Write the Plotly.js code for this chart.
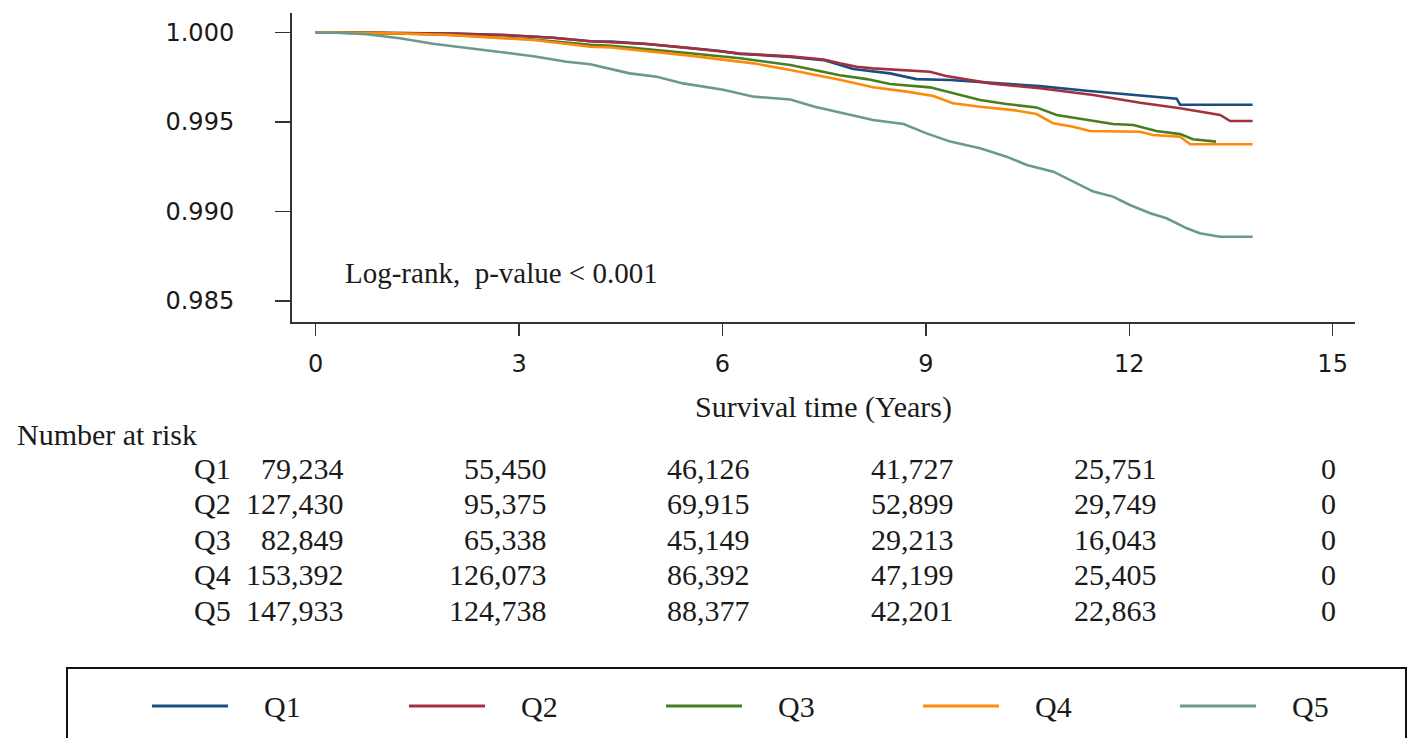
<!DOCTYPE html>
<html>
<head>
<meta charset="utf-8">
<script src="https://cdn.plot.ly/plotly-3.0.1.min.js"></script>
<style>
html,body{margin:0;padding:0;background:#fff;}
#chart{width:1410px;height:738px;}
</style>
</head>
<body>
<div id="chart"></div>
<script>
// ---- data ----
const seriesNames = ["Q1", "Q2", "Q3", "Q4", "Q5"];

const q1Time = [0, 1.0, 2.0, 2.78, 3.5, 4.05, 4.36, 4.89, 5.52, 5.94, 6.26, 7.0, 7.49, 7.93, 8.47, 8.86, 9.36, 9.99, 10.68, 11.37, 11.91, 12.55, 12.70, 12.75, 13.82];
const q1Surv = [1.0, 0.99998, 0.99993, 0.99985, 0.99970, 0.99950, 0.99948, 0.99935, 0.99912, 0.99897, 0.99880, 0.99863, 0.99845, 0.99795, 0.99771, 0.99739, 0.99734, 0.99719, 0.99700, 0.99674, 0.99656, 0.99632, 0.99630, 0.99596, 0.99596];

const q2Time = [0, 1.0, 2.0, 2.78, 3.5, 4.05, 4.89, 5.52, 5.94, 6.26, 7.0, 7.49, 7.73, 7.98, 8.22, 8.72, 9.06, 9.30, 9.95, 10.68, 11.47, 12.16, 12.75, 13.34, 13.49, 13.82];
const q2Surv = [1.0, 0.99998, 0.99993, 0.99985, 0.99970, 0.99950, 0.99935, 0.99912, 0.99897, 0.99882, 0.99866, 0.99848, 0.99827, 0.99808, 0.99799, 0.99786, 0.99780, 0.99756, 0.99715, 0.99688, 0.99650, 0.99607, 0.99576, 0.99539, 0.99505, 0.99505];

const q3Time = [0, 1.0, 2.0, 2.78, 3.21, 4.05, 4.36, 5.52, 6.26, 7.0, 7.73, 8.13, 8.47, 9.06, 9.36, 9.80, 10.19, 10.63, 10.93, 11.42, 11.76, 12.06, 12.40, 12.75, 12.94, 13.28];
const q3Surv = [1.0, 0.99996, 0.99985, 0.99970, 0.99960, 0.99930, 0.99925, 0.99883, 0.99855, 0.99818, 0.99760, 0.99739, 0.99712, 0.99693, 0.99663, 0.99622, 0.99600, 0.99581, 0.99539, 0.99511, 0.99488, 0.99483, 0.99449, 0.99432, 0.99403, 0.99390];

const q4Time = [0, 1.2, 1.98, 2.78, 3.21, 4.05, 4.36, 5.52, 6.46, 7.0, 7.73, 8.22, 8.72, 9.11, 9.40, 9.80, 10.29, 10.63, 10.88, 11.17, 11.42, 12.16, 12.35, 12.75, 12.90, 13.82];
const q4Surv = [1.0, 0.99994, 0.99985, 0.99967, 0.99957, 0.99920, 0.99915, 0.99870, 0.99827, 0.99790, 0.99735, 0.99693, 0.99669, 0.99645, 0.99604, 0.99585, 0.99566, 0.99544, 0.99492, 0.99473, 0.99449, 0.99445, 0.99427, 0.99417, 0.99375, 0.99375];

const q5Time = [0, 0.3, 0.75, 1.24, 1.73, 2.23, 2.72, 3.21, 3.70, 4.05, 4.63, 5.03, 5.42, 6.01, 6.46, 7.0, 7.36, 7.80, 8.22, 8.67, 9.01, 9.36, 9.80, 10.19, 10.49, 10.88, 11.17, 11.47, 11.76, 12.01, 12.31, 12.55, 12.85, 13.04, 13.34, 13.82];
const q5Surv = [1.0, 0.99998, 0.99989, 0.99967, 0.99936, 0.99912, 0.99890, 0.99867, 0.99836, 0.99822, 0.99771, 0.99752, 0.99715, 0.99680, 0.99641, 0.99625, 0.99585, 0.99548, 0.99511, 0.99488, 0.99436, 0.99390, 0.99353, 0.99306, 0.99260, 0.99222, 0.99166, 0.99111, 0.99083, 0.99036, 0.98990, 0.98962, 0.98906, 0.98878, 0.98859, 0.98859];

const xTickVals = [0, 3, 6, 9, 12, 15];
const yTickVals = [0.985, 0.990, 0.995, 1.000];

const riskTimes = [0, 3, 6, 9, 12, 15];
const riskQ1 = ["79,234", "55,450", "46,126", "41,727", "25,751", "0"];
const riskQ2 = ["127,430", "95,375", "69,915", "52,899", "29,749", "0"];
const riskQ3 = ["82,849", "65,338", "45,149", "29,213", "16,043", "0"];
const riskQ4 = ["153,392", "126,073", "86,392", "47,199", "25,405", "0"];
const riskQ5 = ["147,933", "124,738", "88,377", "42,201", "22,863", "0"];

const logRankText = "Log-rank,  p-value < 0.001";
const xTitle = "Survival time (Years)";
const riskTitle = "Number at risk";

// ---- styling ----
const colors = ["#1a4e80", "#a3303f", "#4a7d22", "#ff8a0a", "#6b998c"];
const serif = "Liberation Serif, Times New Roman, serif";
const sans = "DejaVu Sans, Verdana, sans-serif";
const ink = "#1a1a1a";

const times = [q1Time, q2Time, q3Time, q4Time, q5Time];
const survs = [q1Surv, q2Surv, q3Surv, q4Surv, q5Surv];
const risks = [riskQ1, riskQ2, riskQ3, riskQ4, riskQ5];

const W = 1410, H = 738;
const M = {l: 292, r: 55, t: 13, b: 416};
const PW = W - M.l - M.r, PH = H - M.t - M.b;
const px2x = p => (p - M.l) / PW;           // pixel -> paper x
const px2y = p => (H - M.b - p) / PH;       // pixel -> paper y

const traces = seriesNames.map((n, i) => ({
  type: "scatter", mode: "lines", name: n,
  x: times[i], y: survs[i],
  line: {color: colors[i], width: 2.6, shape: "linear"},
  showlegend: false, hoverinfo: "skip"
}));

const annotations = [];
const shapes = [];

annotations.push({
  xref: "paper", yref: "paper", x: px2x(343), y: px2y(273),
  xanchor: "left", yanchor: "middle", showarrow: false,
  text: logRankText, font: {family: serif, size: 29, color: ink}
});
annotations.push({
  xref: "paper", yref: "paper", x: px2x(15), y: px2y(434),
  xanchor: "left", yanchor: "middle", showarrow: false,
  text: riskTitle, font: {family: serif, size: 30, color: ink}
});

const rowY0 = 468, rowStep = 35.5;
seriesNames.forEach((n, i) => {
  const py = rowY0 + i * rowStep;
  annotations.push({
    xref: "paper", yref: "paper", x: px2x(233), y: px2y(py),
    xanchor: "right", yanchor: "middle", showarrow: false,
    text: n, font: {family: serif, size: 30, color: ink}
  });
  risks[i].forEach((v, j) => {
    const last = j === riskTimes.length - 1;
    annotations.push({
      xref: "x", yref: "paper", x: riskTimes[j], y: px2y(py),
      xanchor: last ? "center" : "right", xshift: last ? -4 : 30,
      yanchor: "middle", showarrow: false,
      text: v, font: {family: serif, size: 30, color: ink}
    });
  });
});

// legend (custom, Stata-like long line keys)
const legY = 706, legX0 = 152, legStep = 257, keyLen = 76, labelGap = 34;
seriesNames.forEach((n, i) => {
  const x0 = legX0 + i * legStep;
  shapes.push({
    type: "line", xref: "paper", yref: "paper",
    x0: px2x(x0), x1: px2x(x0 + keyLen), y0: px2y(legY), y1: px2y(legY),
    line: {color: colors[i], width: 3}
  });
  annotations.push({
    xref: "paper", yref: "paper", x: px2x(x0 + keyLen + labelGap), y: px2y(legY),
    xanchor: "left", yanchor: "middle", showarrow: false,
    text: n, font: {family: serif, size: 30, color: ink}
  });
});
shapes.push({
  type: "rect", xref: "paper", yref: "paper",
  x0: px2x(67), x1: px2x(1406), y0: px2y(668), y1: px2y(800),
  line: {color: "#111", width: 2}, fillcolor: "rgba(0,0,0,0)"
});

const layout = {
  width: W, height: H,
  margin: M,
  paper_bgcolor: "#fff", plot_bgcolor: "#fff",
  showlegend: false,
  xaxis: {
    range: [-0.35, 15.33], tickvals: xTickVals, tickmode: "array",
    ticks: "outside", ticklen: 12, tickwidth: 1.5, tickcolor: "#333",
    showline: true, linecolor: "#333", linewidth: 2,
    showgrid: false, zeroline: false,
    tickfont: {family: sans, size: 24, color: ink},
    ticklabelstandoff: 7,
    title: {text: xTitle, font: {family: serif, size: 30, color: ink}, standoff: 19}
  },
  yaxis: {
    range: [0.98383, 1.00108], tickvals: yTickVals, tickmode: "array", tickformat: ".3f",
    ticks: "outside", ticklen: 15, tickwidth: 1.5, tickcolor: "#333",
    showline: true, linecolor: "#333", linewidth: 2,
    showgrid: false, zeroline: false,
    tickfont: {family: sans, size: 24, color: ink},
    ticklabelstandoff: 36
  },
  annotations: annotations,
  shapes: shapes
};

Plotly.newPlot("chart", traces, layout, {displayModeBar: false, staticPlot: true});
</script>
</body>
</html>
